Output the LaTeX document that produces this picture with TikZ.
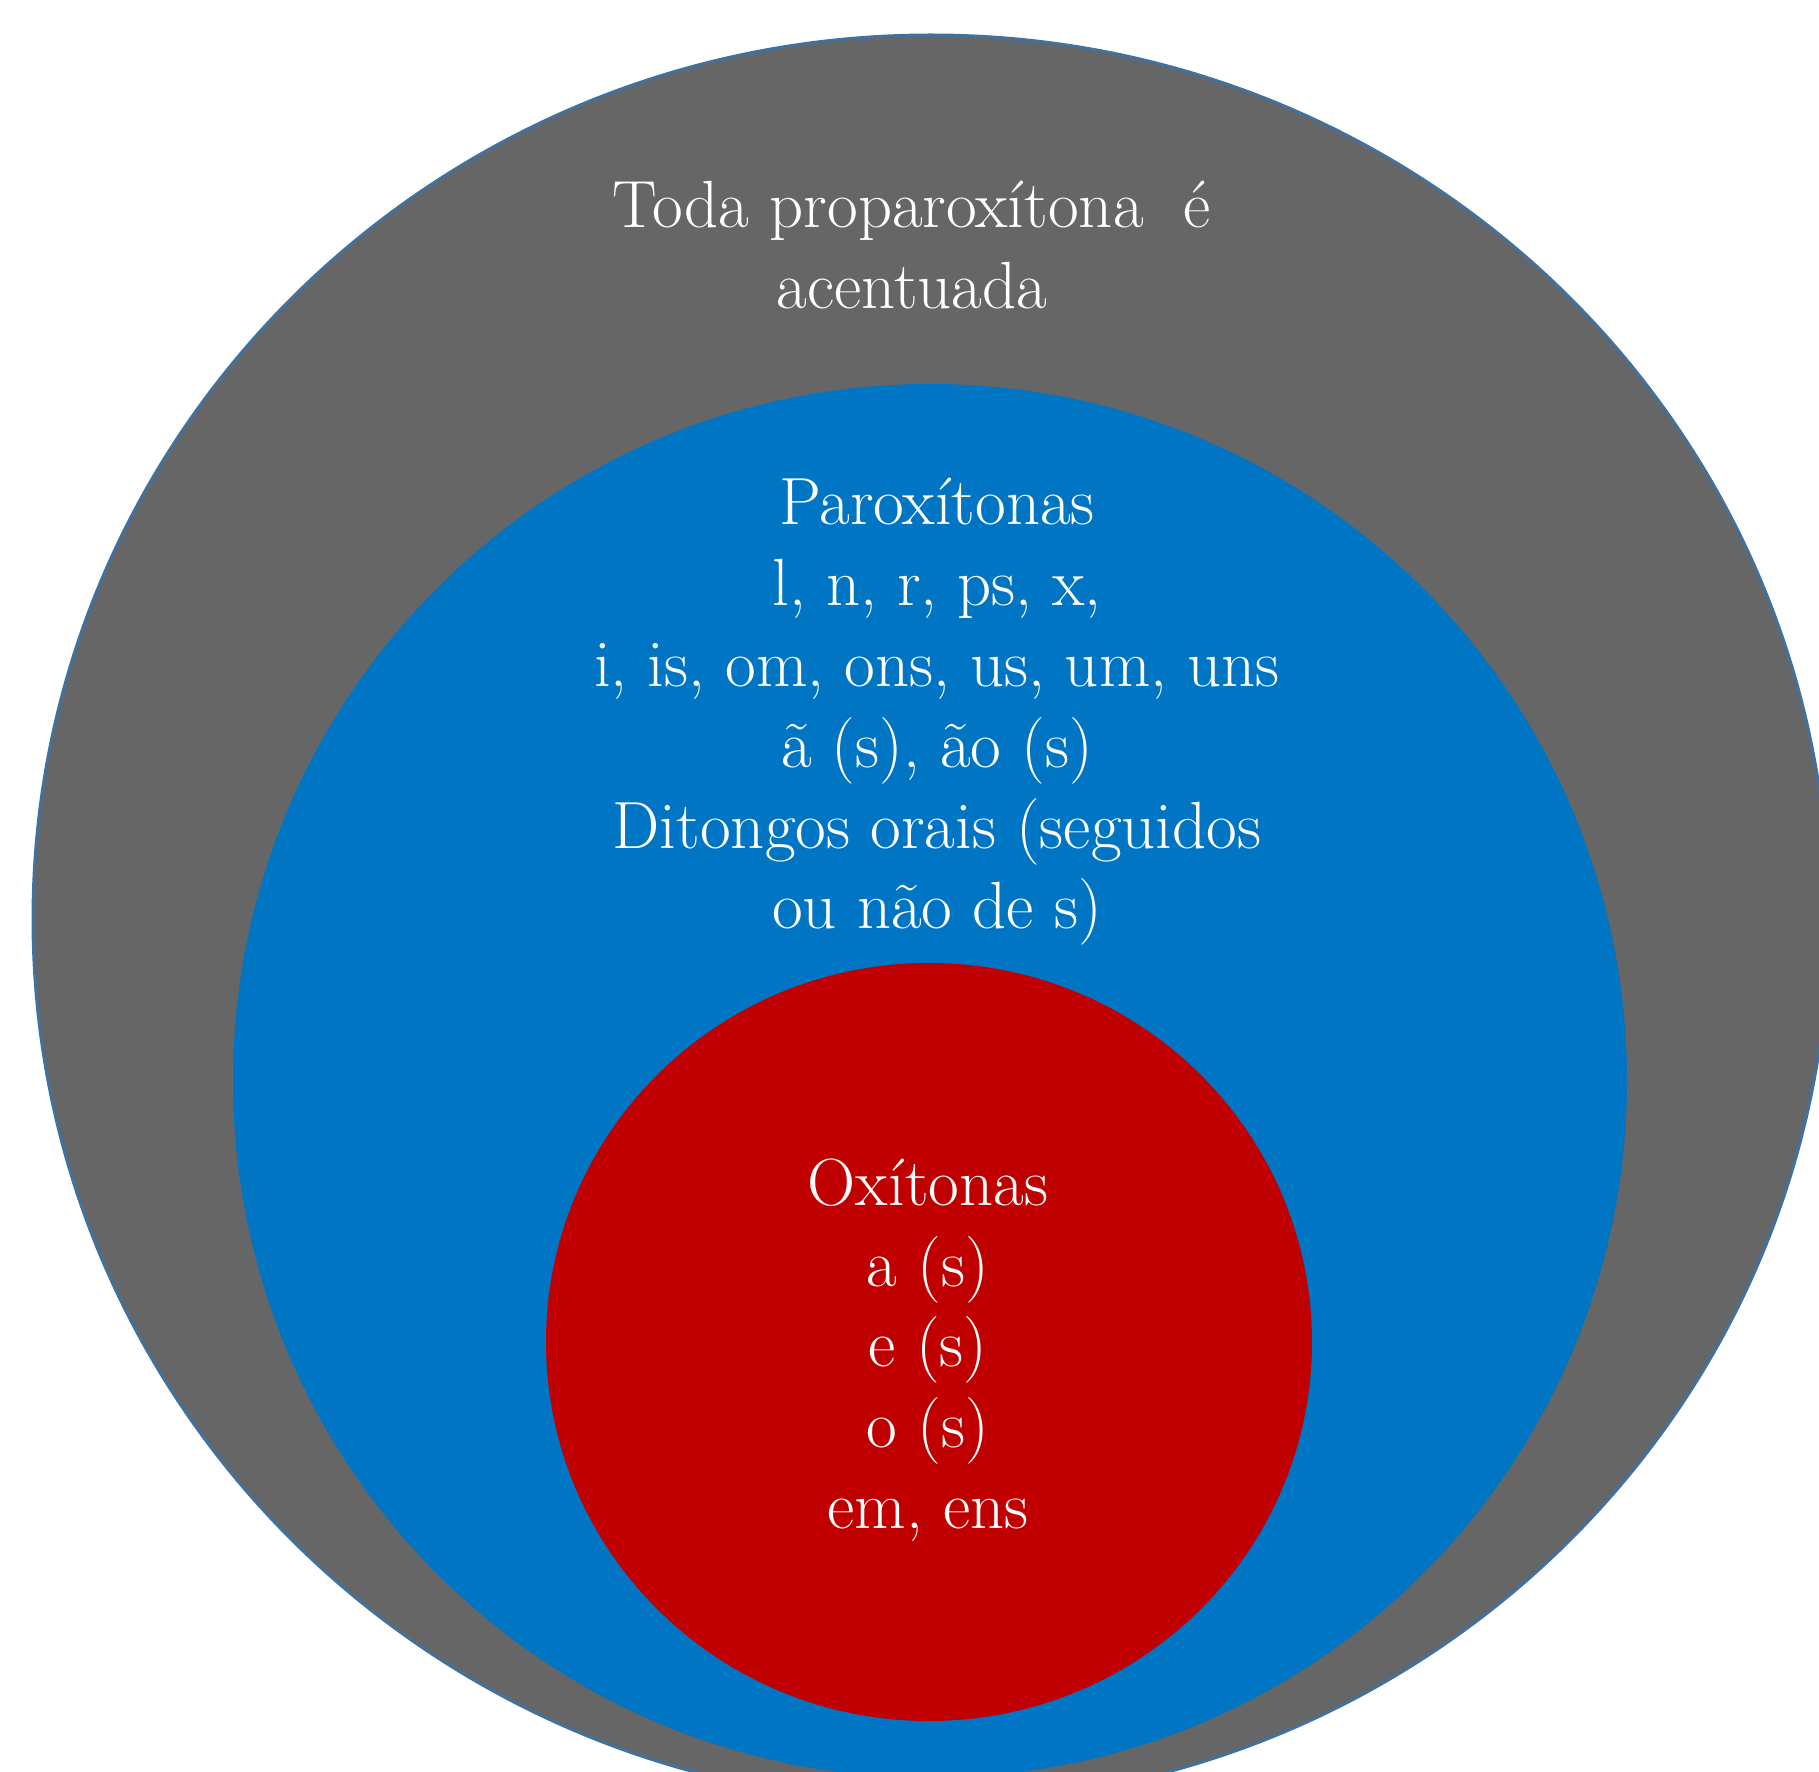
\documentclass[tikz,border=0pt]{standalone}
\usetikzlibrary{shapes.geometric,positioning}
\definecolor{gris}{HTML}{666666}
\definecolor{azul}{HTML}{0075C4}
\definecolor{rojo}{HTML}{C00000}
\definecolor{borde}{HTML}{41719C}

\begin{document}
\begin{tikzpicture}[x=0.1mm,y=-0.1mm,
  disco/.style={circle,inner sep=0pt,outer sep=0pt},
  txt/.style={align=center,text=white,inner sep=0pt,font=\fontsize{19}{23}\selectfont}]
  \useasboundingbox (0,0) rectangle (1819,1772);
  \clip (0,0) rectangle (1819,1772);
  \node [ellipse,inner sep=0pt,fill=gris,draw=borde,line width=0.3mm,minimum width=179.6mm,minimum height=176.8mm] (g) at (931,919) {};
  \node [disco,fill=azul,minimum size=139.4mm] (b) at (930,1081) {};
  \node [ellipse,inner sep=0pt,outer sep=0pt,fill=rojo,minimum width=76.6mm,minimum height=75.8mm] (r) at (929,1342) {};
  \node [txt] (tg) at (912,245) {Toda proparoxítona\ \ é\\acentuada};
  \node [txt] (tb) at (937,712) {Paroxítonas\\l, n, r, ps, x,\\i, is, om, ons, us, um, uns\\ã (s), ão (s)\\Ditongos orais (seguidos\\ou não de s)};
  \node [txt] (tr) at (928,1350) {Oxítonas\\a (s)\\e (s)\\o (s)\\em, ens};
\end{tikzpicture}
\end{document}
